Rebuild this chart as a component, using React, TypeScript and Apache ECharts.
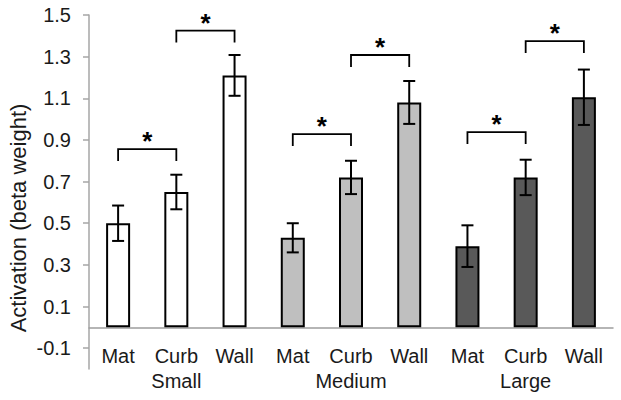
import React, { useEffect, useRef } from "react";
import * as echarts from "echarts";

// ---- data ----
const groups = ["Small", "Medium", "Large"];
const conditions = ["Mat", "Curb", "Wall"];
const smallMeans = [0.5, 0.65, 1.21];
const mediumMeans = [0.43, 0.72, 1.08];
const largeMeans = [0.39, 0.72, 1.105];
const smallErr = [0.085, 0.083, 0.098];
const mediumErr = [0.07, 0.08, 0.103];
const largeErr = [0.1, 0.085, 0.133];
// [fromBar, toBar, bracketHeight]
const brackets = [
  [0, 1, 0.856],
  [1, 2, 1.425],
  [3, 4, 0.928],
  [4, 5, 1.308],
  [6, 7, 0.938],
  [7, 8, 1.375],
];
const yTicks = [-0.1, 0.1, 0.3, 0.5, 0.7, 0.9, 1.1, 1.3, 1.5];
const yLabel = "Activation (beta weight)";

const groupColors = ["#ffffff", "#bfbfbf", "#595959"];
const FONT = "'Liberation Sans', Arial, sans-serif";

export default function App() {
  const ref = useRef<HTMLDivElement>(null);

  useEffect(() => {
    if (!ref.current) return;
    const chart = echarts.init(ref.current, undefined, { renderer: "svg" });

    const allMeans = [smallMeans, mediumMeans, largeMeans];
    const allErr = [smallErr, mediumErr, largeErr];
    const xData: string[] = [];
    const barData: any[] = [];
    const errData: number[][] = [];
    groups.forEach((g, gi) => {
      conditions.forEach((c, ci) => {
        const idx = gi * 3 + ci;
        xData.push(`${c}|${g}`);
        barData.push({
          value: allMeans[gi][ci],
          itemStyle: { color: groupColors[gi] },
        });
        const m = allMeans[gi][ci];
        const e = allErr[gi][ci];
        errData.push([idx, m - e, m + e]);
      });
    });

    const option: any = {
      animation: false,
      grid: {
        left: 89,
        right: 8,
        top: 15,
        bottom: 31,
        containLabel: false,
        outerBoundsMode: "none",
      },
      xAxis: {
        type: "category",
        data: xData,
        axisLine: { onZero: true, lineStyle: { color: "#9d9d9d", width: 1.5 } },
        axisTick: { show: false },
        axisLabel: {
          interval: 0,
          margin: -26,
          color: "#1a1a1a",
          fontSize: 20,
          lineHeight: 25,
          fontFamily: FONT,
          formatter: (_v: string, i: number) => {
            const c = conditions[i % 3];
            const g = groups[Math.floor(i / 3)];
            return i % 3 === 1 ? `${c}\n${g}` : c;
          },
        },
      },
      yAxis: {
        type: "value",
        min: -0.2,
        max: 1.5,
        splitLine: { show: false },
        axisLine: { show: true, lineStyle: { color: "#a6a6a6", width: 1.5 } },
        axisTick: {
          show: true,
          length: 6,
          customValues: yTicks,
          lineStyle: { color: "#a6a6a6", width: 1.5 },
        },
        axisLabel: {
          customValues: yTicks,
          margin: 18,
          color: "#1a1a1a",
          fontSize: 20,
          fontFamily: FONT,
          formatter: (v: number) => v.toFixed(1),
        },
      },
      graphic: [
        {
          type: "text",
          x: 18,
          y: 218,
          rotation: Math.PI / 2,
          style: {
            text: yLabel,
            fontSize: 22,
            fontFamily: FONT,
            fill: "#1a1a1a",
            align: "center",
            verticalAlign: "middle",
          },
        },
      ],
      series: [
        {
          type: "bar",
          data: barData,
          barWidth: 24,
          itemStyle: { borderColor: "#000", borderWidth: 2 },
          z: 2,
        },
        {
          type: "custom",
          data: errData,
          encode: { x: 0, y: [1, 2] },
          z: 3,
          renderItem: (_p: any, api: any) => {
            const idx = api.value(0);
            const lo = api.coord([idx, api.value(1)]);
            const hi = api.coord([idx, api.value(2)]);
            const hw = 6;
            const st = { stroke: "#000", lineWidth: 2 };
            return {
              type: "group",
              children: [
                { type: "line", shape: { x1: hi[0], y1: hi[1], x2: lo[0], y2: lo[1] }, style: st },
                { type: "line", shape: { x1: hi[0] - hw, y1: hi[1], x2: hi[0] + hw, y2: hi[1] }, style: st },
                { type: "line", shape: { x1: lo[0] - hw, y1: lo[1], x2: lo[0] + hw, y2: lo[1] }, style: st },
              ],
            };
          },
        },
        {
          type: "custom",
          data: brackets,
          encode: { x: [0, 1], y: 2 },
          z: 3,
          renderItem: (_p: any, api: any) => {
            const a = api.coord([api.value(0), api.value(2)]);
            const b = api.coord([api.value(1), api.value(2)]);
            const leg = 12;
            return {
              type: "group",
              children: [
                {
                  type: "polyline",
                  shape: {
                    points: [
                      [a[0], a[1] + leg],
                      [a[0], a[1]],
                      [b[0], a[1]],
                      [b[0], a[1] + leg],
                    ],
                  },
                  style: { stroke: "#000", lineWidth: 1.8, fill: null },
                },
                {
                  type: "text",
                  x: (a[0] + b[0]) / 2,
                  y: a[1] - 8,
                  style: {
                    text: "*",
                    fontSize: 26,
                    fontWeight: "bold",
                    fontFamily: FONT,
                    fill: "#000",
                    align: "center",
                    verticalAlign: "middle",
                  },
                },
              ],
            };
          },
        },
      ],
    };

    chart.setOption(option);
    return () => chart.dispose();
  }, []);

  return (
    <div
      ref={ref}
      style={{ position: "absolute", left: 0, top: 0, width: 621, height: 400 }}
    />
  );
}
